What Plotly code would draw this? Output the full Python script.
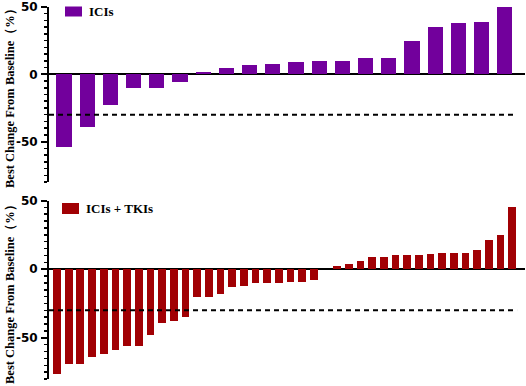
import plotly.graph_objects as go

# ---- data ----
ici_values = [-54, -39, -23, -10, -10, -6, 2, 5, 7, 8, 9, 10, 10, 12, 12, 25, 35, 38, 39, 50]
combo_values = [-76, -69, -69, -64, -62, -59, -56, -56, -48, -39, -38, -35, -20, -20, -18,
                -13, -12, -10, -10, -10, -9, -9, -8, 0, 2, 4, 6, 9, 9, 10, 10, 10, 11, 12,
                12, 12, 14, 21, 25, 45]
ici_name = "ICIs"
combo_name = "ICIs + TKIs"
y_title = "Best Change From Baseline（%）"
threshold = -30
y_ticks = [-50, 0, 50]
y_tick_labels = ["-50", "0", "50"]

W, H = 526, 386
purple = "#72009C"
red = "#A10004"

ici_x = list(range(len(ici_values)))
combo_x = list(range(len(combo_values)))

fig = go.Figure()
fig.add_trace(go.Bar(x=ici_x, y=ici_values, marker=dict(color=purple, line=dict(width=0)),
                     width=0.65, xaxis="x", yaxis="y", name=ici_name, showlegend=False))
fig.add_trace(go.Bar(x=combo_x, y=combo_values, marker=dict(color=red, line=dict(width=0)),
                     width=0.66, xaxis="x2", yaxis="y2", name=combo_name, showlegend=False))

xl, xr = 49 / W, 525 / W
top_dom = [1 - 182 / H, 1 - 7 / H]
bot_dom = [1 - 379 / H, 1 - 200.5 / H]

tickfont = dict(family="DejaVu Sans", size=12, color="black", weight="bold")

def yax(domain, anchor):
    return dict(domain=domain, anchor=anchor, range=[-80, 50], tickvals=y_ticks,
                ticktext=y_tick_labels, automargin=False,
                ticks="outside", ticklen=6, tickwidth=2, tickcolor="black",
                minor=dict(dtick=5, ticks="outside", ticklen=3.5, tickwidth=1.5, tickcolor="black"),
                showline=True, linewidth=2, linecolor="black", showgrid=False,
                zeroline=True, zerolinecolor="black", zerolinewidth=2,
                tickfont=tickfont, ticklabelstandoff=1)

def xax(domain, anchor, rng):
    return dict(domain=domain, anchor=anchor, range=rng, showline=False, showticklabels=False,
                ticks="", showgrid=False, zeroline=False, automargin=False)

top_rng = [-0.647, -0.647 + 476 / 23.2]
bot_rng = [-0.686, -0.686 + 476 / 11.67]

fig.update_layout(
    width=W, height=H, margin=dict(l=0, r=0, t=0, b=0, pad=0, autoexpand=False),
    paper_bgcolor="white", plot_bgcolor="white",
    xaxis=xax([xl, xr], "y", top_rng),
    yaxis=yax(top_dom, "x"),
    xaxis2=xax([xl, xr], "y2", bot_rng),
    yaxis2=yax(bot_dom, "x2"),
    bargap=0, showlegend=False,
)

# threshold dashed lines
fig.add_shape(type="line", xref="x", yref="y", x0=top_rng[0], x1=19.52, y0=threshold, y1=threshold,
              line=dict(color="black", width=2, dash="5px,4px"))
fig.add_shape(type="line", xref="x2", yref="y2", x0=bot_rng[0], x1=39.42, y0=threshold, y1=threshold,
              line=dict(color="black", width=2, dash="5px,4px"))

# legend boxes
fig.add_shape(type="rect", xref="paper", yref="paper", x0=65 / W, x1=82 / W,
              y0=1 - 16.5 / H, y1=1 - 6.5 / H, fillcolor=purple, line=dict(width=0))
fig.add_shape(type="rect", xref="paper", yref="paper", x0=62 / W, x1=79 / W,
              y0=1 - 214 / H, y1=1 - 203 / H, fillcolor=red, line=dict(width=0))

legfont = dict(family="Liberation Serif", size=13, color="black", weight="bold")
fig.add_annotation(xref="paper", yref="paper", x=87 / W, y=1 - 11.5 / H, text=ici_name,
                   showarrow=False, xanchor="left", yanchor="middle", font=legfont)
fig.add_annotation(xref="paper", yref="paper", x=84 / W, y=1 - 208.5 / H, text=combo_name,
                   showarrow=False, xanchor="left", yanchor="middle", font=legfont)

titlefont = dict(family="Liberation Serif", size=12.5, color="black", weight="bold")
fig.add_annotation(xref="paper", yref="paper", x=10 / W, y=1 - 95 / H,
                   text=y_title, textangle=-90, showarrow=False,
                   xanchor="center", yanchor="middle", font=titlefont)
fig.add_annotation(xref="paper", yref="paper", x=10 / W, y=1 - 291 / H,
                   text=y_title, textangle=-90, showarrow=False,
                   xanchor="center", yanchor="middle", font=titlefont)

fig.write_html(
    "out.html",
    config={"displayModeBar": False, "staticPlot": True},
    post_script="document.body.style.margin='0';document.body.style.overflow='hidden';",
)
